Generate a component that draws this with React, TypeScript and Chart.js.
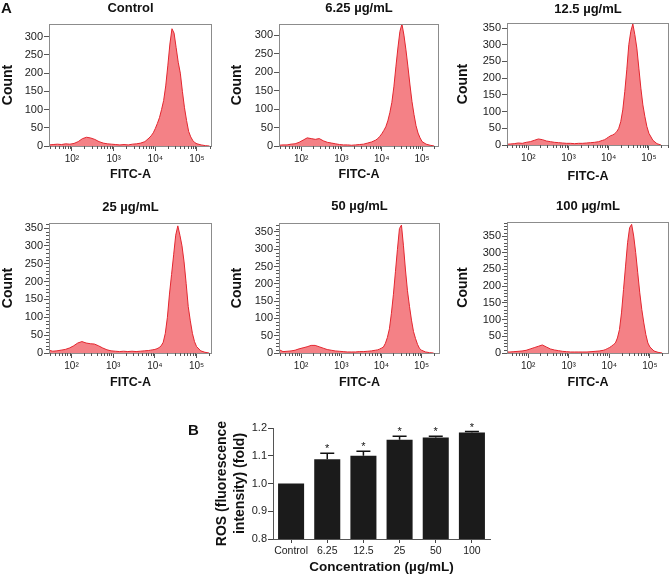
import React, { useEffect, useRef } from "react";
import { Chart, registerables } from "chart.js";

Chart.register(...registerables);

const FONT = "'Liberation Sans', Arial, Helvetica, sans-serif";
Chart.defaults.font.family = FONT;

// ---------- Panel A: flow cytometry histograms ----------
const panelTitles = ["Control", "6.25 µg/mL", "12.5 µg/mL", "25 µg/mL", "50 µg/mL", "100 µg/mL"];

// bin positions in decades (log10 of FITC-A)
const logFluor = [
  1.45, 1.55, 1.65, 1.75, 1.85, 1.95, 2.05, 2.15, 2.25, 2.35, 2.45, 2.55, 2.65, 2.75, 2.85, 2.95,
  3.05, 3.15, 3.25, 3.35, 3.45, 3.55, 3.65, 3.75, 3.85,
  3.9, 3.95, 4.0, 4.05, 4.1, 4.15, 4.2, 4.25, 4.3, 4.35, 4.4, 4.45, 4.5, 4.55, 4.6, 4.65, 4.7, 4.75,
  4.8, 4.85, 4.9, 4.95, 5.0, 5.1, 5.2, 5.3,
];

const countControl = [
  3, 4, 5, 4, 6, 5, 7, 12, 20, 24, 22, 18, 12, 8, 6, 5,
  4, 3, 4, 3, 5, 6, 8, 12, 22,
  28, 36, 48, 62, 78, 100, 125, 165, 220, 280, 322, 310, 270, 230, 200, 150, 105, 70,
  40, 25, 15, 9, 6, 3, 1, 0,
];
const count6_25 = [
  2, 3, 3, 5, 6, 10, 16, 22, 20, 18, 20, 14, 10, 8, 6, 4,
  3, 3, 2, 3, 4, 5, 8, 11, 16,
  20, 26, 33, 42, 52, 68, 90, 118, 160, 214, 265, 310, 330, 300, 260, 214, 165, 120,
  85, 55, 35, 22, 12, 5, 2, 0,
];
const count12_5 = [
  2, 3, 4, 6, 5, 8, 10, 14, 18, 16, 12, 10, 8, 7, 6, 5,
  5, 4, 5, 5, 6, 7, 8, 10, 14,
  16, 20, 24, 28, 30, 34, 40, 50, 70, 105, 160, 225, 300, 340, 362, 330, 290, 230,
  170, 120, 85, 55, 35, 14, 4, 0,
];
const count25 = [
  8, 5, 6, 8, 10, 14, 20, 28, 32, 28, 26, 25, 20, 14, 9, 6,
  5, 4, 5, 4, 5, 4, 5, 6, 7,
  8, 9, 10, 12, 15, 20, 30, 55, 100, 165, 220, 275, 330, 356, 330, 300, 255, 195,
  130, 90, 55, 32, 18, 6, 2, 0,
];
const count50 = [
  10, 4, 5, 6, 8, 12, 15, 18, 22, 22, 18, 14, 10, 8, 6, 5,
  4, 3, 3, 3, 4, 4, 5, 6, 8,
  9, 11, 14, 17, 28, 45, 70, 115, 170, 235, 300, 360, 370, 310, 240, 180, 135, 95,
  62, 42, 25, 13, 8, 3, 1, 0,
];
const count100 = [
  3, 3, 4, 5, 6, 8, 12, 16, 20, 24, 18, 12, 9, 7, 5, 4,
  3, 3, 3, 3, 3, 4, 5, 6, 8,
  10, 13, 16, 20, 25, 30, 45, 70, 120, 190, 260, 330, 375, 385, 350, 300, 240, 180,
  130, 90, 55, 30, 18, 6, 2, 0,
];
const panelCounts = [countControl, count6_25, count12_5, count25, count50, count100];

const countMax = [335, 330, 365, 364, 376, 392];
const countTicksLow = [0, 50, 100, 150, 200, 250, 300];
const countTicksHigh = [0, 50, 100, 150, 200, 250, 300, 350];
const panelCountTicks = [countTicksLow, countTicksLow, countTicksHigh, countTicksHigh, countTicksHigh, countTicksHigh];
const fluorMin = [1.45, 1.45, 1.47, 1.46, 1.45, 1.48];
const fluorMax = [5.36, 5.42, 5.5, 5.37, 5.46, 5.47];
const fluorMajor = [2, 3, 4, 5];
const fluorLabels = ["10²", "10³", "10⁴", "10⁵"];

// ---------- Panel B: ROS bar chart ----------
const concCategories = ["Control", "6.25", "12.5", "25", "50", "100"];
const rosFold = [1.0, 1.087, 1.1, 1.158, 1.166, 1.184];
const rosErr = [0, 0.022, 0.016, 0.012, 0.004, 0.003];
const rosMark = ["", "*", "*", "*", "*", "*"];
const rosTicks = [0.8, 0.9, 1.0, 1.1, 1.2];

// ---------- layout (canvas placement / plot boxes) ----------
const histLayout = [
  { x: 0, y: 0, w: 220, h: 190, left: 49, top: 24, right: 212, bottom: 146, titleY: 8.5, yTitlePad: 0, xTitlePad: 7.6, yMinor: false },
  { x: 220, y: 0, w: 220, h: 190, left: 59, top: 24, right: 219, bottom: 146, titleY: 8.5, yTitlePad: 9, xTitlePad: 7.6, yMinor: false },
  { x: 440, y: 0, w: 229, h: 190, left: 67, top: 23, right: 229, bottom: 145, titleY: 9, yTitlePad: 14.6, xTitlePad: 6, yMinor: false },
  { x: 0, y: 190, w: 220, h: 200, left: 49, top: 33, right: 212, bottom: 163, titleY: 17, yTitlePad: 0, xTitlePad: 0, yMinor: true },
  { x: 220, y: 190, w: 220, h: 200, left: 59, top: 33, right: 220, bottom: 163, titleY: 16.5, yTitlePad: 9, xTitlePad: 0, yMinor: true },
  { x: 440, y: 190, w: 229, h: 200, left: 67, top: 32, right: 229, bottom: 163, titleY: 16.5, yTitlePad: 14.6, xTitlePad: 0, yMinor: true },
];

const FILL = "rgba(243, 118, 124, 0.92)";
const EDGE = "#e3262f";

function Histogram({ idx }: { idx: number }) {
  const ref = useRef<HTMLCanvasElement>(null);
  const g = histLayout[idx];
  useEffect(() => {
    const decor = {
      id: "histDecor" + idx,
      afterDraw(chart: any) {
        const { ctx, chartArea: a } = chart;
        const xs = chart.scales.x;
        const ys = chart.scales.y;
        ctx.save();
        // frame
        ctx.strokeStyle = "#8c8c8c";
        ctx.lineWidth = 1;
        ctx.strokeRect(Math.round(a.left) + 0.5, Math.round(a.top) + 0.5, Math.round(a.right - a.left) - 1, Math.round(a.bottom - a.top));
        // minor x ticks
        ctx.strokeStyle = "#555";
        ctx.beginPath();
        for (let n = 1; n <= 5; n++) {
          for (let k = 2; k <= 9; k++) {
            const v = n + Math.log10(k);
            if (v <= xs.min || v >= xs.max) continue;
            const px = Math.round(xs.getPixelForValue(v)) + 0.5;
            ctx.moveTo(px, a.bottom);
            ctx.lineTo(px, a.bottom + 3);
          }
        }
        if (g.yMinor) {
          for (let v = 10; v < ys.max; v += 10) {
            if (v % 50 === 0) continue;
            const py = Math.round(ys.getPixelForValue(v)) + 0.5;
            ctx.moveTo(a.left, py);
            ctx.lineTo(a.left - 3, py);
          }
        }
        ctx.stroke();
        // panel title
        ctx.fillStyle = "#111";
        ctx.font = `bold 13px ${FONT}`;
        ctx.textAlign = "center";
        ctx.textBaseline = "middle";
        ctx.fillText(panelTitles[idx], (a.left + a.right) / 2, g.titleY);
        ctx.restore();
      },
    };
    const chart = new Chart(ref.current as HTMLCanvasElement, {
      type: "line",
      data: {
        datasets: [
          {
            data: logFluor.map((e, i) => ({ x: e, y: panelCounts[idx][i] })),
            borderColor: EDGE,
            backgroundColor: FILL,
            borderWidth: 1,
            fill: "origin",
            pointRadius: 0,
            tension: 0,
          },
        ],
      },
      options: {
        animation: false,
        responsive: false,
        maintainAspectRatio: false,
        layout: { padding: { top: g.top, right: g.w - g.right, left: 0, bottom: 0 } },
        plugins: { legend: { display: false }, tooltip: { enabled: false }, title: { display: false } },
        scales: {
          x: {
            type: "linear",
            min: fluorMin[idx],
            max: fluorMax[idx],
            afterBuildTicks: (s: any) => {
              s.ticks = fluorMajor.map((v) => ({ value: v }));
            },
            afterFit: (s: any) => {
              s.height = g.h - g.bottom;
            },
            ticks: {
              callback: (_v: any, i: number) => fluorLabels[i],
              font: { size: 10 },
              color: "#222",
              padding: 2,
              autoSkip: false,
              maxRotation: 0,
            },
            grid: { drawOnChartArea: false, tickLength: 5, color: "#555" },
            border: { display: false },
            title: {
              display: true,
              text: "FITC-A",
              font: { size: 12.5, weight: "bold" },
              color: "#111",
              padding: { top: 0, bottom: g.xTitlePad },
            },
          },
          y: {
            type: "linear",
            min: 0,
            max: countMax[idx],
            afterBuildTicks: (s: any) => {
              s.ticks = panelCountTicks[idx].map((v) => ({ value: v }));
            },
            afterFit: (s: any) => {
              s.width = g.left;
            },
            ticks: { font: { size: 11 }, color: "#222", padding: 1, autoSkip: false },
            grid: { drawOnChartArea: false, tickLength: 5, color: "#555" },
            border: { display: false },
            title: {
              display: true,
              text: "Count",
              font: { size: 14, weight: "bold" },
              color: "#111",
              padding: { top: g.yTitlePad, bottom: 0 },
            },
          },
        },
      },
      plugins: [decor],
    } as any);
    return () => chart.destroy();
  }, []);
  return (
    <canvas
      ref={ref}
      width={g.w}
      height={g.h}
      style={{ position: "absolute", left: g.x, top: g.y, width: g.w, height: g.h }}
    />
  );
}

const barBox = { x: 180, y: 405, w: 320, h: 169, left: 93, top: 23, right: 310, bottom: 134 };

function RosBars() {
  const ref = useRef<HTMLCanvasElement>(null);
  useEffect(() => {
    const errPlugin = {
      id: "rosErr",
      afterDatasetsDraw(chart: any) {
        const { ctx } = chart;
        const ys = chart.scales.y;
        const meta = chart.getDatasetMeta(0);
        ctx.save();
        ctx.strokeStyle = "#111";
        ctx.lineWidth = 1.5;
        ctx.fillStyle = "#111";
        ctx.font = `11px ${FONT}`;
        ctx.textAlign = "center";
        ctx.textBaseline = "middle";
        meta.data.forEach((bar: any, i: number) => {
          const topY = ys.getPixelForValue(rosFold[i] + rosErr[i]);
          if (rosErr[i] > 0) {
            ctx.beginPath();
            ctx.moveTo(bar.x, bar.y);
            ctx.lineTo(bar.x, topY);
            ctx.moveTo(bar.x - 7, topY);
            ctx.lineTo(bar.x + 7, topY);
            ctx.stroke();
          }
          if (rosMark[i]) ctx.fillText(rosMark[i], bar.x, topY - 4);
        });
        ctx.restore();
      },
    };
    const chart = new Chart(ref.current as HTMLCanvasElement, {
      type: "bar",
      data: {
        labels: concCategories,
        datasets: [
          {
            data: rosFold,
            backgroundColor: "#1b1b1b",
            borderWidth: 0,
            barPercentage: 0.72,
            categoryPercentage: 1,
          },
        ],
      },
      options: {
        animation: false,
        responsive: false,
        maintainAspectRatio: false,
        layout: { padding: { top: barBox.top, right: barBox.w - barBox.right, left: 0, bottom: 0 } },
        plugins: { legend: { display: false }, tooltip: { enabled: false } },
        scales: {
          x: {
            afterFit: (s: any) => {
              s.height = barBox.h - barBox.bottom;
            },
            grid: { drawOnChartArea: false, offset: false, tickLength: 4, color: "#444" },
            border: { color: "#555", width: 1 },
            ticks: { font: { size: 10.5 }, color: "#222", padding: 2, autoSkip: false, maxRotation: 0 },
            title: {
              display: true,
              text: "Concentration (µg/mL)",
              font: { size: 13.5, weight: "bold", lineHeight: 1 },
              color: "#111",
              padding: { top: 0, bottom: 0 },
            },
          },
          y: {
            min: 0.8,
            max: 1.2,
            afterBuildTicks: (s: any) => {
              s.ticks = rosTicks.map((v) => ({ value: v }));
            },
            afterFit: (s: any) => {
              s.width = barBox.left;
            },
            ticks: {
              callback: (v: any) => Number(v).toFixed(1),
              font: { size: 11 },
              color: "#222",
              padding: 1,
            },
            grid: { drawOnChartArea: false, tickLength: 5, color: "#444" },
            border: { color: "#555", width: 1 },
            title: {
              display: true,
              text: ["ROS (fluorescence", "intensity) (fold)"],
              font: { size: 14, weight: "bold", lineHeight: 1.29 },
              color: "#111",
              padding: { top: 33, bottom: 0 },
            },
          },
        },
      },
      plugins: [errPlugin],
    } as any);
    return () => chart.destroy();
  }, []);
  return (
    <canvas
      ref={ref}
      width={barBox.w}
      height={barBox.h}
      style={{ position: "absolute", left: barBox.x, top: barBox.y, width: barBox.w, height: barBox.h }}
    />
  );
}

export default function App() {
  return (
    <div
      style={{
        position: "fixed",
        left: 0,
        top: 0,
        width: 669,
        height: 574,
        overflow: "hidden",
        background: "#fff",
        fontFamily: FONT,
      }}
    >
      {histLayout.map((_, i) => (
        <Histogram key={i} idx={i} />
      ))}
      <RosBars />
      <div style={{ position: "absolute", left: 1, top: 0, fontSize: 15, fontWeight: "bold", lineHeight: "15px", color: "#111" }}>A</div>
      <div style={{ position: "absolute", left: 188, top: 422, fontSize: 15, fontWeight: "bold", lineHeight: "15px", color: "#111" }}>B</div>
    </div>
  );
}
